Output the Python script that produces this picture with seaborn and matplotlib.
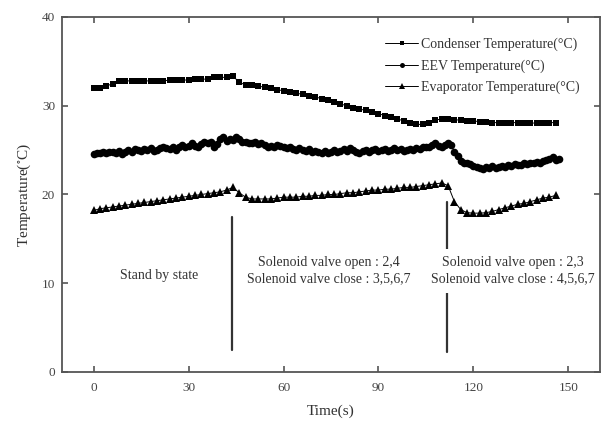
import numpy as np
import pandas as pd
import matplotlib
matplotlib.use("Agg")
import matplotlib.pyplot as plt
import seaborn as sns

# ---- data ----
time_2s = list(range(0, 148, 2))
condenser = [32.0, 32.0, 32.2, 32.5, 32.8, 32.8, 32.8, 32.8, 32.8, 32.8,
             32.8, 32.8, 32.9, 32.9, 32.9, 32.9, 33.0, 33.0, 33.0, 33.2,
             33.2, 33.2, 33.3, 32.7, 32.3, 32.3, 32.2, 32.1, 32.0, 31.8,
             31.7, 31.6, 31.4, 31.3, 31.1, 31.0, 30.8, 30.6, 30.4, 30.2,
             30.0, 29.8, 29.6, 29.5, 29.3, 29.1, 28.9, 28.7, 28.5, 28.3,
             28.1, 27.9, 27.9, 28.1, 28.4, 28.5, 28.5, 28.4, 28.4, 28.3,
             28.3, 28.2, 28.2, 28.1, 28.1, 28.1, 28.1, 28.1, 28.1, 28.1,
             28.0, 28.1, 28.1, 28.1]
evaporator = [18.2, 18.4, 18.5, 18.6, 18.7, 18.8, 18.9, 19.0, 19.1, 19.2,
              19.3, 19.4, 19.5, 19.6, 19.7, 19.8, 19.9, 20.0, 20.1, 20.2,
              20.3, 20.5, 20.8, 20.2, 19.7, 19.5, 19.5, 19.5, 19.5, 19.6,
              19.7, 19.7, 19.7, 19.8, 19.8, 19.9, 19.9, 20.0, 20.0, 20.1,
              20.2, 20.2, 20.3, 20.4, 20.5, 20.5, 20.6, 20.6, 20.7, 20.8,
              20.8, 20.9, 21.0, 21.1, 21.2, 21.3, 21.0, 19.2, 18.3, 17.95,
              17.9, 17.9, 17.95, 18.1, 18.3, 18.5, 18.7, 18.9, 19.0, 19.2,
              19.4, 19.6, 19.7, 19.9]
time_1s = list(range(0, 148))
eev = [24.6, 24.7, 24.7, 24.8, 24.7, 24.8, 24.8, 24.7, 24.9, 24.6,
       24.8, 25.0, 24.8, 25.1, 25.0, 24.9, 25.1, 25.0, 25.2, 24.9,
       25.0, 25.2, 25.4, 25.2, 25.1, 25.3, 25.0, 25.4, 25.6, 25.3,
       25.5, 25.8, 25.5, 25.4, 25.7, 25.9, 25.8, 25.9, 25.4, 25.7,
       26.2, 26.5, 26.0, 26.3, 26.1, 26.5, 26.2, 25.9, 25.9, 25.8,
       25.8, 25.9, 25.7, 25.8, 25.6, 25.4, 25.5, 25.4, 25.6, 25.5,
       25.3, 25.2, 25.3, 25.1, 25.0, 25.2, 25.0, 24.9, 25.1, 24.8,
       24.9, 24.8, 24.7, 24.9, 24.7, 24.8, 25.0, 24.8, 24.9, 25.1,
       24.9, 25.2, 25.0, 24.8, 24.7, 24.9, 25.0, 24.8, 25.0, 25.1,
       24.9, 25.0, 25.1, 24.9, 25.0, 25.2, 25.0, 25.1, 24.9, 25.0,
       25.1, 25.0, 25.2, 25.1, 25.3, 25.4, 25.3, 25.6, 25.8, 25.5,
       25.4, 25.6, 25.8, 25.6, 24.8, 24.3, 23.8, 23.6, 23.5, 23.4,
       23.2, 23.1, 23.0, 22.9, 23.1, 23.0, 23.2, 23.0, 23.1, 23.2,
       23.1, 23.3, 23.2, 23.4, 23.3, 23.3, 23.5, 23.4, 23.6, 23.5,
       23.7, 23.6, 23.8, 23.9, 24.0, 24.2, 23.9, 24.0]

labels = ["Condenser Temperature(°C)", "EEV Temperature(°C)",
          "Evaporator Temperature(°C)"]
x_ticks = [0, 30, 60, 90, 120, 150]
y_ticks = [0, 10, 20, 30, 40]
event_times = [43.7, 111.5]

# ---- style ----
sns.set_style("ticks")
plt.rcParams["font.family"] = ["Liberation Serif", "DejaVu Serif"]
plt.rcParams["mathtext.fontset"] = "stix"
gray = "#333333"
spine_gray = "#555555"

fig = plt.figure(figsize=(6.03, 4.21), dpi=100)
ax = fig.add_axes([62 / 603, 1 - 372 / 421, 538 / 603, 355 / 421])

df_c = pd.DataFrame({"t": time_2s, "T": condenser})
df_e = pd.DataFrame({"t": time_1s, "T": eev})
df_v = pd.DataFrame({"t": time_2s, "T": evaporator})

common = dict(color="black", linewidth=0.7, markeredgewidth=0,
              estimator=None, ax=ax)
sns.lineplot(data=df_c, x="t", y="T", marker="s", markersize=4.6,
             label=labels[0], **common)
sns.lineplot(data=df_e, x="t", y="T", marker="o", markersize=5.5,
             label=labels[1], **common)
sns.lineplot(data=df_v, x="t", y="T", marker="^", markersize=6.0,
             label=labels[2], **common)

# event lines
ax.plot([event_times[0]] * 2, [2.5, 17.5], color=gray, lw=1.6, zorder=1)
ax.plot([event_times[1]] * 2, [2.3, 19.1], color=gray, lw=1.6, zorder=1)

txt_kw = dict(ha="center", va="center", fontsize=10, color=gray,
              linespacing=1.35)
ax.text(20.8, 10.9, "Stand by state", **txt_kw)
ax.text(74.4, 11.4, "Solenoid valve open : 2,4\nSolenoid valve close : 3,5,6,7",
        **txt_kw)
ax.text(132.5, 11.4, "Solenoid valve open : 2,3\nSolenoid valve close : 4,5,6,7",
        bbox=dict(facecolor="white", edgecolor="none", pad=5), zorder=3,
        **txt_kw)

ax.set_xlim(-10, 160)
ax.set_ylim(0, 40)
ax.set_xticks(x_ticks)
ax.set_yticks(y_ticks)
ax.set_xlabel("Time(s)", fontsize=11, color=gray, labelpad=8)
ax.set_ylabel("Temperature($^{\\circ}$C)", fontsize=11, color=gray, labelpad=6)
ax.tick_params(direction="in", top=True, right=True, length=4,
               width=1.2, color=spine_gray, labelsize=9.5,
               labelcolor="#444444")
ax.tick_params(axis="y", pad=5)
ax.tick_params(axis="x", pad=7)
for s in ax.spines.values():
    s.set_color(spine_gray)
    s.set_linewidth(1.3)
    s.set_zorder(5)

leg = ax.legend(loc="upper left", bbox_to_anchor=(385 / 603, 1 - 38 / 421),
                bbox_transform=fig.transFigure, frameon=False, fontsize=10,
                handlelength=2.4, handletextpad=0.2, labelspacing=0.55,
                borderpad=0, borderaxespad=0, markerscale=0.65)
for t in leg.get_texts():
    t.set_color(gray)

fig.savefig("out.png", dpi=100)
